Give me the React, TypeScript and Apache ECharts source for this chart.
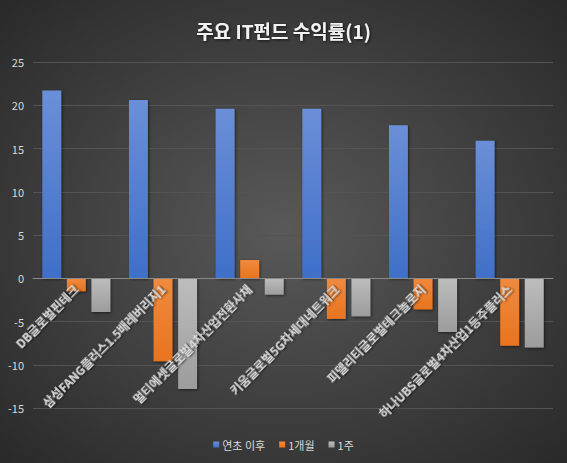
import React, { useEffect, useRef } from "react";
import * as echarts from "echarts";

const titleText = "주요 IT펀드 수익률(1)";
const categories = [
  "DB글로벌핀테크",
  "삼성FANG플러스1.5배레버리지1",
  "멀티에셋글로벌4차산업전환사채",
  "키움글로벌5G차세대네트워크",
  "피델리티글로벌테크놀로지",
  "하나UBS글로벌4차산업1등주플러스",
];
const seriesNames = ["연초 이후", "1개월", "1주"];
const ytdValues = [21.7, 20.6, 19.6, 19.6, 17.7, 15.9];
const monthValues = [-1.5, -9.6, 2.1, -4.7, -3.6, -7.8];
const weekValues = [-3.9, -12.8, -1.9, -4.4, -6.2, -8.0];
const yMin = -15;
const yMax = 25;
const yInterval = 5;

const FONT = "'Noto Sans CJK KR', 'Noto Sans', sans-serif";
const W = 567;
const H = 463;
const GRID = { left: 33, right: 14, top: 62, bottom: 55 };

function grad(top: string, bottom: string) {
  return new echarts.graphic.LinearGradient(0, 0, 0, 1, [
    { offset: 0, color: top },
    { offset: 1, color: bottom },
  ]);
}

export default function App() {
  const ref = useRef<HTMLDivElement>(null);
  useEffect(() => {
    if (!ref.current) return;
    const chart = echarts.init(ref.current, undefined, { renderer: "svg" });
    const barShadow = {
      shadowBlur: 3,
      shadowColor: "rgba(0,0,0,0.55)",
      shadowOffsetX: 1,
      shadowOffsetY: 1,
    };
    // Move the category axis (line + labels) up to the value 0 position
    const gridH = H - GRID.top - GRID.bottom;
    const zeroOffset = -(gridH * (0 - yMin)) / (yMax - yMin);
    chart.setOption({
      animation: false,
      backgroundColor: new echarts.graphic.RadialGradient(0.5, 0.5, 0.75, [
        { offset: 0, color: "#595959" },
        { offset: 1, color: "#262626" },
      ]),
      title: {
        text: titleText,
        left: "center",
        top: 16,
        textStyle: {
          fontFamily: FONT,
          fontSize: 19,
          fontWeight: "bold",
          color: "#f2f2f2",
          textShadowColor: "rgba(0,0,0,0.7)",
          textShadowBlur: 3,
          textShadowOffsetX: 1,
          textShadowOffsetY: 1,
        },
      },
      legend: {
        bottom: 8,
        left: "center",
        itemWidth: 6,
        itemHeight: 6,
        itemGap: 14,
        icon: "rect",
        textStyle: { fontFamily: FONT, fontSize: 11, color: "#d9d9d9", padding: [0, 0, 0, -2] },
        data: seriesNames,
      },
      grid: {
        ...GRID,
        containLabel: false,
        outerBoundsMode: "none",
      },
      xAxis: {
        type: "category",
        data: categories,
        position: "bottom",
        offset: zeroOffset,
        z: 5,
        axisLine: { onZero: false, lineStyle: { color: "#8a8a8a", width: 1 } },
        axisTick: { show: false },
        axisLabel: {
          interval: 0,
          rotate: 45,
          margin: 9,
          fontFamily: FONT,
          fontSize: 12,
          fontWeight: "bold",
          color: "#d9d9d9",
          textShadowColor: "rgba(0,0,0,0.85)",
          textShadowBlur: 2,
          textShadowOffsetX: 1,
          textShadowOffsetY: 1,
        },
      },
      yAxis: {
        type: "value",
        min: yMin,
        max: yMax,
        interval: yInterval,
        axisLine: { show: false },
        axisTick: { show: false },
        axisLabel: { fontFamily: FONT, fontSize: 11, color: "#d9d9d9", margin: 9 },
        splitLine: { lineStyle: { color: "#545454", width: 1 } },
      },
      series: [
        {
          name: seriesNames[0],
          type: "bar",
          data: ytdValues,
          barGap: "30%",
          barCategoryGap: "21.5%",
          itemStyle: { color: grad("#6b8fd8", "#3f6fc8"), ...barShadow },
        },
        {
          name: seriesNames[1],
          type: "bar",
          data: monthValues,
          itemStyle: { color: grad("#f08a3e", "#e8741f"), ...barShadow },
        },
        {
          name: seriesNames[2],
          type: "bar",
          data: weekValues,
          itemStyle: { color: grad("#bdbdbd", "#9c9c9c"), ...barShadow },
        },
      ],
    });
    return () => chart.dispose();
  }, []);
  return (
    <div
      ref={ref}
      style={{ position: "absolute", left: 0, top: 0, width: W, height: H }}
    />
  );
}
